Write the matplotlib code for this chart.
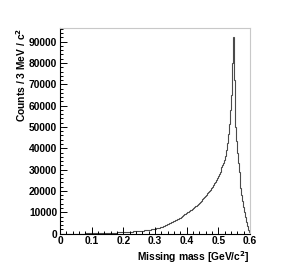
import numpy as np
import matplotlib
matplotlib.use("Agg")
import matplotlib.pyplot as plt
from matplotlib.ticker import MultipleLocator

# missing mass histogram, 200 bins of 3 MeV from 0 to 0.6 GeV
bin_edges = np.linspace(0.0, 0.6, 201)
counts = [
    0, 0, 0, 0, 0, 0, 1, 1, 2, 2,
    3, 4, 5, 6, 8, 10, 12, 14, 17, 20,
    23, 27, 31, 35, 40, 45, 50, 56, 62, 68,
    75, 82, 90, 98, 107, 116, 126, 136, 147, 158,
    170, 182, 195, 208, 222, 236, 251, 266, 282, 298,
    315, 333, 351, 370, 390, 410, 431, 452, 474, 497,
    520, 545, 570, 595, 620, 646, 672, 700, 728, 756,
    785, 815, 845, 876, 908, 940, 973, 1006, 1040, 1075,
    1110, 1150, 1190, 1230, 1270, 1310, 1360, 1410, 1460, 1510,
    1570, 1630, 1700, 1770, 1840, 1920, 2000, 2080, 2170, 2260,
    2360, 2470, 2590, 2710, 2840, 2980, 3120, 3270, 3430, 3600,
    3770, 3950, 4140, 4340, 4550, 4770, 5000, 5240, 5490, 5750,
    6000, 6230, 6460, 6700, 6950, 7210, 7480, 7760, 8060, 8360,
    8670, 9000, 9330, 9700, 10000, 10310, 10630, 10960, 11300, 11650,
    12010, 12380, 12770, 13160, 13570, 13990, 14420, 14860, 15310, 15770,
    16240, 16730, 17230, 17750, 18280, 18830, 19400, 19980, 20580, 21200,
    21900, 22700, 23500, 24300, 25200, 26100, 27000, 27900, 28900, 29900,
    31000, 32100, 33300, 34500, 36500, 39000, 42500, 46500, 51500, 58000,
    65000, 80000, 92000, 72000, 50000, 43500, 38000, 33000, 28800, 25000,
    21500, 18300, 15400, 12700, 10200, 7600, 5300, 3400, 1800, 600,
]

x_ticks = [0, 0.1, 0.2, 0.3, 0.4, 0.5, 0.6]
x_tick_labels = ["0", "0.1", "0.2", "0.3", "0.4", "0.5", "0.6"]
y_ticks = [0, 10000, 20000, 30000, 40000, 50000, 60000, 70000, 80000, 90000]

plt.rcParams["font.family"] = ["Liberation Sans", "DejaVu Sans"]
plt.rcParams["font.weight"] = "bold"
plt.rcParams["mathtext.default"] = "bf"

fig = plt.figure(figsize=(2.86, 2.78), dpi=100)
ax = fig.add_axes([0.2098, 0.1597, 0.6643, 0.7396])

ax.stairs(counts, bin_edges, color="#4a4a4a", linewidth=0.8)

ax.set_xlim(0, 0.6)
ax.set_ylim(0, 96400)

ax.set_xticks(x_ticks)
ax.set_xticklabels(x_tick_labels)
ax.set_yticks(y_ticks)
ax.set_yticklabels([str(v) for v in y_ticks])
ax.xaxis.set_minor_locator(MultipleLocator(0.02))
ax.yaxis.set_minor_locator(MultipleLocator(2000))

ax.tick_params(which="both", direction="in", top=False, right=False,
               labelsize=7.4, width=0.7, color="black")
ax.tick_params(which="major", length=5, pad=2)
ax.tick_params(which="minor", length=2.5)
for lab in ax.get_xticklabels() + ax.get_yticklabels():
    lab.set_fontweight("bold")

for side in ["left", "bottom"]:
    ax.spines[side].set_color("black")
    ax.spines[side].set_linewidth(0.8)
for side in ["top", "right"]:
    ax.spines[side].set_color("#c8c8c8")
    ax.spines[side].set_linewidth(0.8)

ax.set_xlabel("Missing mass [GeV/c$^{2}$]", fontsize=7.4, fontweight="bold",
              ha="right", x=1.0, labelpad=2)
ax.set_ylabel("Counts / 3 MeV / c$^{2}$", fontsize=7.4, fontweight="bold",
              ha="right", y=1.0, labelpad=1)

fig.savefig("out.png", dpi=100)
plt.close(fig)
